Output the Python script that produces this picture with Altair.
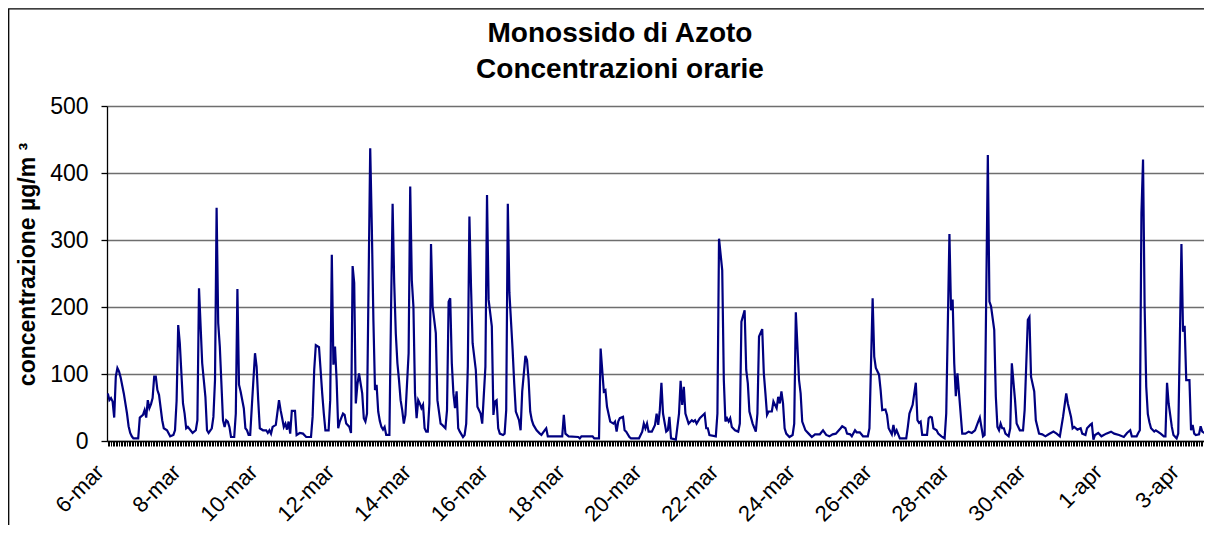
import altair as alt
import pandas as pd

# hour index from 6-mar 00:00 and NO concentration (µg/m³) at the line's vertices
hours = [
    0, 1, 2, 3, 4, 5, 6, 7, 8, 10,
    12, 13, 14, 15, 16, 19, 20, 22, 23, 24,
    25, 26, 27, 28, 29, 30, 31, 32, 33, 34,
    35, 37, 39, 41, 42, 43, 44, 45, 47, 48,
    49, 50, 53, 55, 56, 57, 59, 60, 61, 62,
    63, 65, 66, 67, 68, 69, 70, 72, 73, 74,
    75, 76, 77, 79, 80, 81, 82, 83, 85, 86,
    87, 88, 89, 90, 92, 93, 94, 95, 97, 99,
    100, 101, 102, 103, 105, 107, 108, 109, 110, 111,
    112, 113, 114, 115, 117, 118, 120, 122, 124, 127,
    128, 129, 130, 132, 133, 134, 135, 136, 138, 139,
    140, 141, 142, 143, 144, 145, 147, 148, 149, 151,
    152, 153, 154, 155, 156, 157, 159, 160, 161, 162,
    164, 165, 166, 167, 168, 169, 170, 171, 172, 173,
    174, 176, 177, 178, 179, 180, 181, 182, 183, 184,
    185, 186, 188, 189, 190, 191, 192, 193, 194, 195,
    196, 197, 198, 199, 200, 201, 202, 203, 205, 206,
    208, 209, 211, 212, 213, 214, 215, 216, 217, 218,
    219, 220, 222, 223, 224, 225, 226, 227, 228, 230,
    231, 233, 234, 236, 237, 238, 240, 241, 242, 243,
    244, 245, 247, 248, 249, 250, 251, 253, 254, 255,
    257, 258, 259, 261, 262, 263, 264, 265, 266, 268,
    270, 271, 273, 274, 275, 284, 285, 286, 288, 294,
    295, 296, 303, 304, 307, 308, 310, 311, 312, 314,
    316, 317, 318, 319, 320, 322, 323, 324, 326, 327,
    332, 334, 335, 336, 337, 338, 340, 342, 343, 344,
    345, 346, 347, 349, 350, 351, 352, 355, 357, 358,
    359, 360, 361, 363, 365, 366, 367, 368, 370, 373,
    374, 375, 376, 380, 381, 382, 384, 385, 386, 387,
    388, 389, 390, 392, 394, 395, 396, 398, 399, 400,
    401, 403, 405, 406, 407, 409, 410, 411, 412, 413,
    415, 416, 418, 419, 420, 421, 422, 423, 424, 426,
    428, 429, 430, 432, 433, 434, 436, 438, 440, 442,
    445, 447, 449, 451, 453, 455, 458, 459, 461, 462,
    464, 465, 467, 468, 470, 472, 475, 476, 478, 479,
    480, 482, 483, 484, 486, 487, 488, 490, 491, 492,
    493, 495, 499, 500, 501, 503, 505, 506, 507, 508,
    509, 512, 513, 514, 515, 516, 518, 519, 521, 523,
    524, 526, 527, 528, 529, 530, 531, 532, 534, 536,
    538, 540, 542, 544, 545, 547, 548, 550, 551, 552,
    554, 555, 556, 557, 558, 559, 560, 561, 563, 564,
    565, 567, 568, 570, 572, 573, 575, 576, 577, 579,
    580, 582, 584, 586, 588, 591, 593, 595, 597, 599,
    600, 602, 603, 604, 606, 608, 609, 611, 612, 614,
    615, 616, 617, 619, 621, 624, 627, 629, 632, 635,
    637, 639, 640, 643, 644, 645, 646, 647, 648, 649,
    650, 651, 652, 654, 655, 658, 660, 661, 662, 663,
    665, 666, 668, 669, 670, 671, 672, 673, 674, 676,
    677, 678, 679, 680, 682, 683, 684, 686, 688, 689,
]
values = [
    71, 61, 64, 59, 35, 96, 109, 104, 95, 71,
    41, 22, 12, 7, 4, 4, 35, 39, 46, 35,
    61, 49, 55, 64, 96, 96, 76, 69, 50, 31,
    19, 16, 7, 9, 16, 60, 173, 146, 56, 41,
    19, 21, 12, 16, 31, 228, 116, 91, 66, 16,
    12, 19, 36, 91, 348, 176, 141, 31, 21, 31,
    29, 21, 6, 6, 41, 227, 84, 74, 49, 19,
    16, 9, 9, 51, 131, 111, 61, 19, 16, 16,
    12, 16, 11, 21, 24, 61, 46, 34, 21, 26,
    17, 29, 11, 45, 45, 9, 12, 11, 6, 6,
    36, 106, 143, 140, 106, 71, 41, 16, 16, 61,
    278, 114, 141, 91, 19, 29, 41, 39, 26, 21,
    12, 261, 236, 56, 84, 101, 71, 34, 29, 41,
    437, 320, 180, 76, 84, 44, 30, 21, 17, 21,
    9, 9, 191, 354, 236, 160, 116, 91, 61, 46,
    26, 39, 131, 380, 240, 201, 71, 34, 61, 56,
    49, 54, 19, 14, 14, 56, 294, 201, 161, 61,
    26, 24, 19, 46, 208, 213, 116, 71, 49, 74,
    19, 14, 6, 9, 26, 111, 335, 231, 146, 106,
    51, 41, 26, 111, 367, 211, 171, 39, 59, 61,
    19, 11, 9, 11, 46, 354, 221, 136, 86, 44,
    31, 16, 74, 127, 121, 91, 44, 31, 24, 16,
    11, 9, 16, 19, 7, 7, 39, 11, 7, 6,
    4, 7, 7, 4, 4, 138, 74, 76, 51, 29,
    26, 29, 14, 29, 34, 36, 16, 14, 6, 4,
    4, 14, 26, 19, 26, 14, 14, 24, 41, 24,
    46, 87, 41, 14, 16, 36, 4, 2, 41, 90,
    54, 81, 41, 26, 31, 29, 31, 26, 34, 41,
    19, 19, 9, 7, 41, 302, 255, 91, 29, 34,
    29, 34, 21, 16, 14, 26, 178, 195, 106, 86,
    44, 26, 14, 41, 156, 167, 101, 71, 39, 44,
    44, 59, 49, 66, 56, 74, 56, 19, 11, 6,
    9, 26, 192, 91, 71, 29, 16, 11, 6, 10,
    10, 16, 9, 7, 10, 11, 19, 22, 19, 11,
    10, 7, 16, 13, 13, 7, 7, 19, 213, 126,
    109, 99, 76, 46, 47, 39, 19, 10, 24, 11,
    16, 4, 4, 21, 41, 54, 87, 31, 27, 29,
    9, 9, 34, 36, 35, 19, 16, 11, 7, 4,
    41, 309, 195, 211, 116, 67, 101, 71, 11, 11,
    14, 12, 16, 29, 35, 7, 9, 427, 208, 201,
    166, 66, 21, 16, 26, 19, 19, 11, 7, 19,
    116, 61, 26, 16, 16, 46, 181, 185, 96, 74,
    31, 11, 10, 7, 10, 14, 11, 7, 36, 71,
    56, 36, 19, 21, 17, 19, 11, 9, 19, 24,
    26, 2, 9, 12, 7, 11, 14, 11, 9, 6,
    12, 16, 7, 7, 12, 16, 340, 420, 200, 81,
    40, 28, 19, 14, 16, 11, 7, 7, 87, 56,
    21, 9, 4, 11, 150, 294, 163, 172, 91, 91,
    16, 24, 11, 9, 10, 22, 14, 11, 7, 7,
]

tick_labels = ["6-mar", "8-mar", "10-mar", "12-mar", "14-mar", "16-mar", "18-mar",
               "20-mar", "22-mar", "24-mar", "26-mar", "28-mar", "30-mar", "1-apr", "3-apr"]
y_ticks = [0, 100, 200, 300, 400, 500]
title_lines = ["Monossido di Azoto", "Concentrazioni orarie"]
y_title = "concentrazione µg/m ³"

FONT = "Liberation Sans"
W, H = 1097, 335

df = pd.DataFrame({"ora": hours, "conc": values})

label_arr = "[" + ",".join("'" + t + "'" for t in tick_labels) + "]"
label_expr = "datum.value % 48 === 0 ? " + label_arr + "[datum.value / 48] : ''"

x_axis = alt.Axis(
    values=list(range(0, 686)), labelExpr=label_expr, labelAngle=-45,
    labelAlign="right", labelBaseline="middle", labelFont=FONT, labelFontSize=22,
    labelColor="black", labelPadding=22, labelOffset=-8, labelOverlap=False,
    labelFlush=False, labelBound=False, tickSize=5, tickColor="black", tickWidth=1,
    domainColor="black", domainWidth=1.3, grid=False, title=None,
)
y_axis = alt.Axis(
    values=y_ticks, labelFont=FONT, labelFontSize=23, labelColor="black",
    labelPadding=13, tickSize=6, tickColor="black", tickWidth=1.3,
    domainColor="black", domainWidth=1.3, gridColor="#6e6e6e", gridWidth=1.3,
    title=y_title, titleFont=FONT, titleFontSize=23, titleFontWeight="bold",
    titleColor="black", titleAngle=270, titleX=-73, titleY=158,
    titleAlign="center", titleBaseline="alphabetic",
)

line = alt.Chart(df).mark_line(color="#000080", strokeWidth=2.2, clip=True).encode(
    x=alt.X("ora:Q", scale=alt.Scale(domain=[-0.5, 685.1], nice=False, zero=False), axis=x_axis),
    y=alt.Y("conc:Q", scale=alt.Scale(domain=[0, 500], nice=False), axis=y_axis),
)

border = alt.Chart(pd.DataFrame({"b": [0]})).mark_rect(
    filled=False, stroke="black", strokeWidth=1.3
).encode(x=alt.value(-98.3), x2=alt.value(W + 200), y=alt.value(-97.2), y2=alt.value(H + 300))

t1 = alt.Chart(pd.DataFrame({"t": [title_lines[0]]})).mark_text(
    font=FONT, fontSize=28, fontWeight="bold", color="black", align="center", baseline="alphabetic"
).encode(text="t:N", x=alt.value(513), y=alt.value(-64.3))
t2 = alt.Chart(pd.DataFrame({"t": [title_lines[1]]})).mark_text(
    font=FONT, fontSize=28, fontWeight="bold", color="black", align="center", baseline="alphabetic"
).encode(text="t:N", x=alt.value(513), y=alt.value(-27.7))

chart = alt.layer(border, line, t1, t2).properties(
    width=W, height=H,
    autosize=alt.AutoSizeParams(type="none"),
    padding={"left": 99, "top": 98, "right": 0, "bottom": 84},
).configure_view(stroke=None)

chart.save("out.html", embed_options={"renderer": "svg", "actions": False})
